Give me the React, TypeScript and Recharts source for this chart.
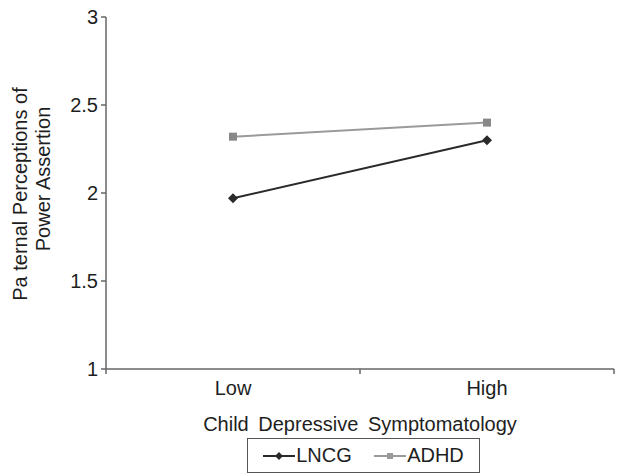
import React from 'react';
import { LineChart, Line, XAxis, YAxis, Legend } from 'recharts';

const levels = ['Low', 'High'];
const seriesNames = ['LNCG', 'ADHD'];
const lncg = [1.97, 2.3];
const adhd = [2.32, 2.4];
const yTicks = [1, 1.5, 2, 2.5, 3];

const data = levels.map((level, i) => ({ level, LNCG: lncg[i], ADHD: adhd[i] }));

const FONT = '"Liberation Sans", Arial, sans-serif';
const TEXT = '#1e1e1e';
const AXIS = '#666';
const DARK = '#2a2a2a';
const GREY = '#9a9a9a';

const W = 621;
const H = 474;
const LEFT = 106;
const RIGHT = 7;
const HALF_BAND = (W - LEFT - RIGHT) / (levels.length * 2);

const Diamond = (props: any) => {
  const { cx, cy, fill, size = 5 } = props;
  if (cx == null || cy == null) return null;
  return (
    <polygon
      points={`${cx},${cy - size} ${cx + size},${cy} ${cx},${cy + size} ${cx - size},${cy}`}
      fill={fill}
    />
  );
};

const Square = (props: any) => {
  const { cx, cy, fill, size = 4 } = props;
  if (cx == null || cy == null) return null;
  return <rect x={cx - size} y={cy - size} width={size * 2} height={size * 2} fill={fill} />;
};

// category ticks sit between the bands, like the original
const XTick = (props: any) => {
  const { x, y, payload, index } = props;
  const axisY = y - 5;
  return (
    <g>
      {index === 0 && <line x1={x - HALF_BAND} x2={x - HALF_BAND} y1={axisY} y2={axisY + 5} stroke={AXIS} strokeWidth={1.5} />}
      <line x1={x + HALF_BAND} x2={x + HALF_BAND} y1={axisY} y2={axisY + 5} stroke={AXIS} strokeWidth={1.5} />
      <text x={x} y={y + 21} textAnchor="middle" fill={TEXT} fontSize={20} fontFamily={FONT}>
        {payload.value}
      </text>
    </g>
  );
};

const YLabel = () => (
  <g fill={TEXT} fontSize={20} fontFamily={FONT}>
    <text x={20} y={194} textAnchor="middle" dominantBaseline="central" transform="rotate(-90, 20, 194)">
      Pa ternal Perceptions of
    </text>
    <text x={43} y={179} textAnchor="middle" dominantBaseline="central" transform="rotate(-90, 43, 179)">
      Power Assertion
    </text>
  </g>
);

const LegendBox = (props: any) => {
  const payload = [...(props.payload || [])].sort(
    (a: any, b: any) => seriesNames.indexOf(a.value) - seriesNames.indexOf(b.value)
  );
  return (
    <div
      style={{
        border: '1.5px solid #555',
        height: 35,
        boxSizing: 'border-box',
        display: 'flex',
        alignItems: 'center',
        justifyContent: 'space-around',
        padding: '0 4px',
        fontFamily: FONT,
        fontSize: 20,
        color: TEXT,
        background: '#fff',
      }}
    >
      {payload.map((entry: any) => (
        <span key={entry.value} style={{ display: 'flex', alignItems: 'center' }}>
          <svg width={32} height={12} style={{ marginRight: 1 }}>
            <line x1={0} x2={32} y1={6} y2={6} stroke={entry.color} strokeWidth={2} />
            {entry.value === 'LNCG' ? (
              <Diamond cx={16} cy={6} fill={entry.color} size={4} />
            ) : (
              <Square cx={16} cy={6} fill={entry.color} size={3} />
            )}
          </svg>
          {entry.value}
        </span>
      ))}
    </div>
  );
};

export default function App() {
  return (
    <div style={{ position: 'absolute', left: 0, top: 0, background: '#fff' }}>
      <LineChart width={W} height={H} data={data} margin={{ top: 17, right: RIGHT, bottom: 45, left: 46 }}>
        <XAxis
          dataKey="level"
          scale="band"
          stroke={AXIS}
          strokeWidth={1.5}
          tickLine={false}
          tickSize={5}
          tickMargin={0}
          height={60}
          interval={0}
          tick={<XTick />}
          label={{
            value: 'Child Depressive Symptomatology',
            position: 'insideBottom',
            offset: -2,
            fill: TEXT,
            fontSize: 20,
            fontFamily: FONT,
            style: { wordSpacing: 4 },
          }}
        />
        <YAxis
          domain={[1, 3]}
          ticks={yTicks}
          width={60}
          stroke={AXIS}
          strokeWidth={1.5}
          tickSize={5}
          tickMargin={3}
          tick={{ fill: TEXT, fontSize: 20, fontFamily: FONT }}
          label={<YLabel />}
        />
        <Legend
          layout="horizontal"
          verticalAlign="middle"
          align="center"
          wrapperStyle={{ top: 438, left: 247, width: 233 }}
          content={<LegendBox />}
        />
        <Line
          dataKey="LNCG"
          stroke={DARK}
          strokeWidth={2}
          dot={<Diamond fill={DARK} size={5} />}
          isAnimationActive={false}
        />
        <Line
          dataKey="ADHD"
          stroke={GREY}
          strokeWidth={2}
          dot={<Square fill="#888" size={4} />}
          isAnimationActive={false}
        />
      </LineChart>
    </div>
  );
}
